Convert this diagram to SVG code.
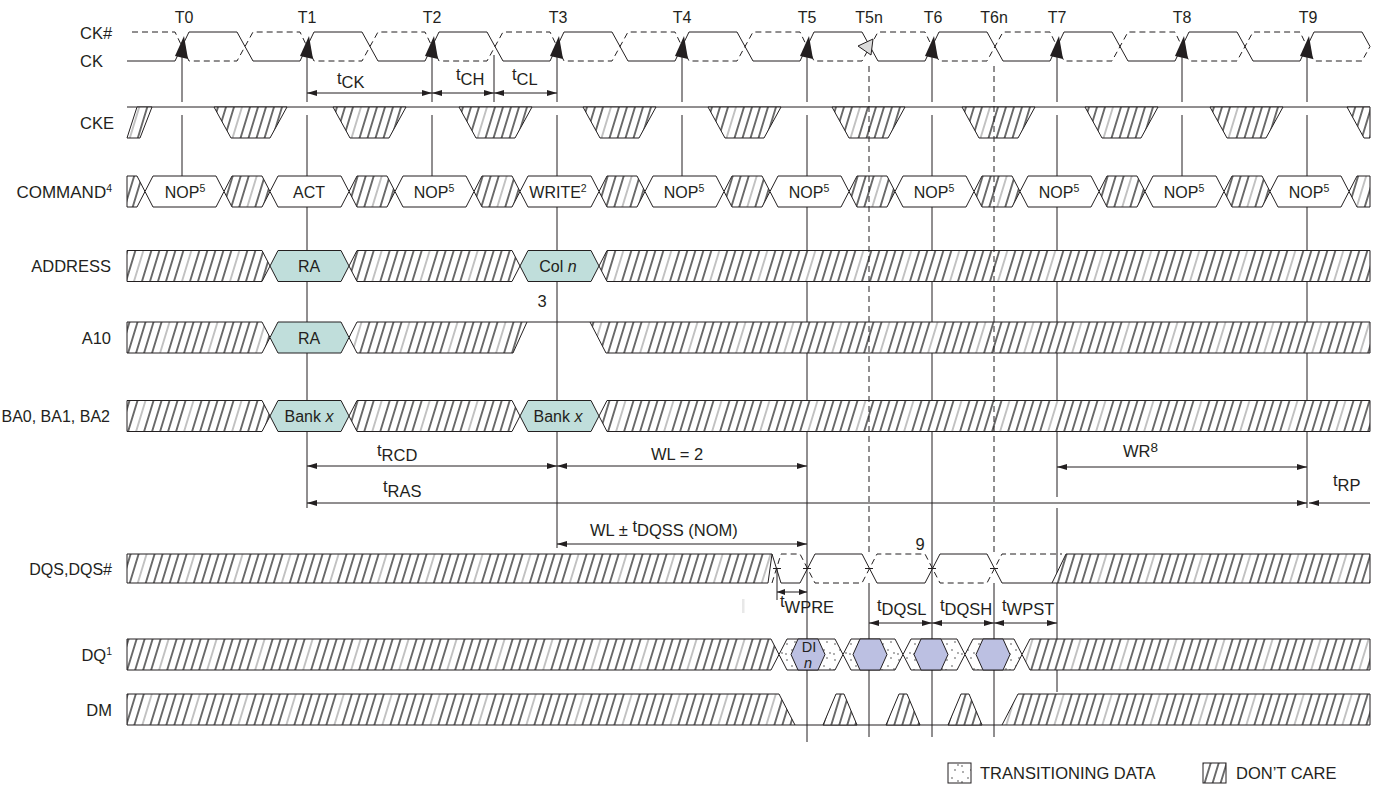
<svg xmlns="http://www.w3.org/2000/svg" xmlns:xlink="http://www.w3.org/1999/xlink" width="1375" height="793" viewBox="0 0 1375 793">
<style>
text{font-family:"Liberation Sans",Arial,sans-serif;fill:#231f20}
.lbl{font-size:16.5px}
.tl{font-size:16px;text-anchor:middle}
.bx{font-size:16px;text-anchor:middle}
.sup{font-size:10.5px}
.ln{stroke:#231f20;stroke-width:1;fill:none}
.dsh{stroke:#231f20;stroke-width:1;fill:none;stroke-dasharray:6 4}
.h{fill:url(#hatch);stroke:#231f20;stroke-width:1}
.w{fill:#fff;stroke:#231f20;stroke-width:1}
.teal{fill:#c0dedb;stroke:#231f20;stroke-width:1}
.blue{fill:#bcc0e2;stroke:#231f20;stroke-width:1}
.dot{fill:url(#dots);stroke:#231f20;stroke-width:1}
.dim{stroke:#231f20;stroke-width:1;fill:none;marker-start:url(#ah);marker-end:url(#ah)}
.blk{fill:#231f20}
</style>
<defs>
<pattern id="hatch" patternUnits="userSpaceOnUse" width="48" height="10" patternTransform="skewX(-17)">
<rect width="48" height="10" fill="#fff"/>
<path d="M4,0V10M12,0V10M20,0V10M36,0V10M44,0V10" stroke="#1a1a1a" stroke-width="1.3"/>
<path d="M28,0V10" stroke="#8f8f8f" stroke-width="1.1"/>
</pattern>
<pattern id="dots" patternUnits="userSpaceOnUse" width="16" height="16">
<rect width="16" height="16" fill="#fff"/>
<circle cx="3" cy="4" r="0.9" fill="#8a8a8a"/>
<circle cx="11" cy="2" r="0.9" fill="#8a8a8a"/>
<circle cx="8" cy="10" r="0.9" fill="#8a8a8a"/>
<circle cx="14" cy="13" r="0.9" fill="#8a8a8a"/>
<circle cx="2" cy="14" r="0.9" fill="#8a8a8a"/>
</pattern>
<marker id="ah" viewBox="0 0 10 6" refX="10" refY="3" markerWidth="10" markerHeight="6" markerUnits="userSpaceOnUse" orient="auto-start-reverse">
<path d="M0,0L10,3L0,6z" fill="#231f20"/>
</marker>
<marker id="ahs" viewBox="0 0 8 6" refX="8" refY="3" markerWidth="8" markerHeight="6" markerUnits="userSpaceOnUse" orient="auto-start-reverse">
<path d="M0,0L8,3L0,6z" fill="#231f20"/>
</marker>
<polygon id="ckArrow" points="2,36 -7,56 6,59"/>
<polygon id="cmdBox" points="-37,0 -29,-15.5 34,-15.5 42,0 34,15.5 -29,15.5"/>
<polygon id="gapHex" points="0,0 8,-15.5 38,-15.5 46,0 38,15.5 8,15.5"/>
<polygon id="gapHexW" points="0,0 8,-15.5 163,-15.5 171,0 163,15.5 8,15.5"/>
<polygon id="ckeTrap" points="0,0 73,0 56,31 17,31"/>
<polygon id="dmBump" points="-17,15.5 -4,-15.5 4,-15.5 17,15.5"/>
<polygon id="dqHex" points="-17,0 -10,-15.5 10,-15.5 17,0 10,15.5 -10,15.5"/>
</defs>

<rect width="1375" height="793" fill="#fff"/>

<g id="connectors-under">
<path class="ln" d="M182,45V102M182,115V191M307,45V102M307,115V508M432,45V102M432,115V191M557,45V102M557,115V548M682,45V102M682,115V191M807,45V102M807,115V742M932,45V102M932,115V737M1057,45V102M1057,115V497M1057,508V692M1182,45V102M1182,115V191M1307,45V102M1307,115V508M494,55V102M869,583V737M994,583V737M777,568V600"/>
</g>

<g id="clock">
<path class="ln" d="M127,61H175L189,32H237L253,61H300L314,32H362L378,61H425L439,32H487L503,61H550L564,32H612L628,61H675L689,32H737L753,61H800L814,32H862L878,61H925L939,32H987L1003,61H1050L1064,32H1112L1128,61H1175L1189,32H1237L1253,61H1300L1314,32H1362L1370,46.5"/>
<path class="dsh" d="M132,32H175L189,61H237L253,32H300L314,61H362L378,32H425L439,61H487L503,32H550L564,61H612L628,32H675L689,61H737L753,32H800L814,61H862L878,32H925L939,61H987L1003,32H1050L1064,61H1112L1128,32H1175L1189,61H1237L1253,32H1300L1314,61H1362L1370,46.5"/>
<use href="#ckArrow" class="blk" x="182"/>
<use href="#ckArrow" class="blk" x="307"/>
<use href="#ckArrow" class="blk" x="432"/>
<use href="#ckArrow" class="blk" x="557"/>
<use href="#ckArrow" class="blk" x="682"/>
<use href="#ckArrow" class="blk" x="807"/>
<use href="#ckArrow" class="blk" x="932"/>
<use href="#ckArrow" class="blk" x="1057"/>
<use href="#ckArrow" class="blk" x="1182"/>
<use href="#ckArrow" class="blk" x="1307"/>
<polygon points="858,46 873,39 871,55" fill="#dcdcdc" stroke="#231f20" stroke-width="1"/>
</g>

<g id="cke">
<path class="ln" d="M127,107H1370"/>
<polygon class="h" points="127,138 137,107 152,107 140,138"/>
<use href="#ckeTrap" class="h" x="214" y="107"/>
<use href="#ckeTrap" class="h" x="333" y="107"/>
<use href="#ckeTrap" class="h" x="459" y="107"/>
<use href="#ckeTrap" class="h" x="583" y="107"/>
<use href="#ckeTrap" class="h" x="708" y="107"/>
<use href="#ckeTrap" class="h" x="832" y="107"/>
<use href="#ckeTrap" class="h" x="962" y="107"/>
<use href="#ckeTrap" class="h" x="1085" y="107"/>
<use href="#ckeTrap" class="h" x="1210" y="107"/>
<polygon class="h" points="1347,107 1370,107 1370,138 1364,138"/>
</g>

<g id="command">
<polygon class="h" points="127,176 137,176 145,191.5 137,207 127,207"/>
<use href="#gapHex" class="h" x="224" y="191.5"/>
<use href="#gapHex" class="h" x="349" y="191.5"/>
<use href="#gapHex" class="h" x="474" y="191.5"/>
<use href="#gapHex" class="h" x="599" y="191.5"/>
<use href="#gapHex" class="h" x="724" y="191.5"/>
<use href="#gapHex" class="h" x="849" y="191.5"/>
<use href="#gapHex" class="h" x="974" y="191.5"/>
<use href="#gapHex" class="h" x="1099" y="191.5"/>
<use href="#gapHex" class="h" x="1224" y="191.5"/>
<polygon class="h" points="1349,191.5 1357,176 1370,176 1370,207 1357,207"/>
<use href="#cmdBox" class="w" x="182" y="191.5"/>
<use href="#cmdBox" class="w" x="307" y="191.5"/>
<use href="#cmdBox" class="w" x="432" y="191.5"/>
<use href="#cmdBox" class="w" x="557" y="191.5"/>
<use href="#cmdBox" class="w" x="682" y="191.5"/>
<use href="#cmdBox" class="w" x="807" y="191.5"/>
<use href="#cmdBox" class="w" x="932" y="191.5"/>
<use href="#cmdBox" class="w" x="1057" y="191.5"/>
<use href="#cmdBox" class="w" x="1182" y="191.5"/>
<use href="#cmdBox" class="w" x="1307" y="191.5"/>
<text class="bx" x="185" y="197.5">NOP<tspan class="sup" dy="-6">5</tspan></text>
<text class="bx" x="309" y="197.5">ACT</text>
<text class="bx" x="434" y="197.5">NOP<tspan class="sup" dy="-6">5</tspan></text>
<text class="bx" x="558" y="197.5">WRITE<tspan class="sup" dy="-6">2</tspan></text>
<text class="bx" x="684" y="197.5">NOP<tspan class="sup" dy="-6">5</tspan></text>
<text class="bx" x="809" y="197.5">NOP<tspan class="sup" dy="-6">5</tspan></text>
<text class="bx" x="934" y="197.5">NOP<tspan class="sup" dy="-6">5</tspan></text>
<text class="bx" x="1059" y="197.5">NOP<tspan class="sup" dy="-6">5</tspan></text>
<text class="bx" x="1184" y="197.5">NOP<tspan class="sup" dy="-6">5</tspan></text>
<text class="bx" x="1309" y="197.5">NOP<tspan class="sup" dy="-6">5</tspan></text>
</g>

<g id="address">
<polygon class="h" points="127,250.5 262,250.5 270,266 262,281.5 127,281.5"/>
<use href="#gapHexW" class="h" x="349" y="266"/>
<polygon class="h" points="599,266 607,250.5 1370,250.5 1370,281.5 607,281.5"/>
<use href="#cmdBox" class="teal" x="307" y="266"/>
<use href="#cmdBox" class="teal" x="557" y="266"/>
<text class="bx" x="309" y="272">RA</text>
<text class="bx" x="558" y="272">Col <tspan font-style="italic">n</tspan></text>
</g>

<g id="a10">
<polygon class="h" points="127,322 262,322 270,337.5 262,353 127,353"/>
<polygon class="h" points="349,337.5 357,322 527,322 513,353 357,353"/>
<path class="ln" d="M527,322H590"/>
<polygon class="h" points="590,322 1370,322 1370,353 606,353"/>
<use href="#cmdBox" class="teal" x="307" y="337.5"/>
<text class="bx" x="309" y="343.5">RA</text>
</g>

<g id="bank">
<polygon class="h" points="127,400.5 262,400.5 270,416 262,431.5 127,431.5"/>
<use href="#gapHexW" class="h" x="349" y="416"/>
<polygon class="h" points="599,416 607,400.5 1370,400.5 1370,431.5 607,431.5"/>
<use href="#cmdBox" class="teal" x="307" y="416"/>
<use href="#cmdBox" class="teal" x="557" y="416"/>
<text class="bx" x="309" y="422">Bank <tspan font-style="italic">x</tspan></text>
<text class="bx" x="558" y="422">Bank <tspan font-style="italic">x</tspan></text>
</g>

<g id="dqs">
<polygon class="h" points="127,554 772,554 768,583 127,583"/>
<polygon class="h" points="1052,583 1066,554 1370,554 1370,583"/>
<path class="ln" d="M772,554L781,583H800L815,554H862L877,583H925L940,554H987L1002,583H1052"/>
<path class="dsh" d="M772,583L781,554H800L815,583H862L877,554H925L940,583H987L1002,554H1062"/>
<path class="ln" d="M773,568.5h8M803,568.5h8M865,568.5h8M928,568.5h8M990,568.5h8"/>
</g>

<g id="dq">
<polygon class="h" points="127,639 771,639 779,654.5 771,670 127,670"/>
<polygon class="dot" points="779,654.5 787,639 835,639 843,654.5 835,670 787,670"/>
<polygon class="dot" points="843,654.5 851,639 895,639 903,654.5 895,670 851,670"/>
<polygon class="dot" points="903,654.5 911,639 957,639 965,654.5 957,670 911,670"/>
<polygon class="dot" points="965,654.5 973,639 1014,639 1022,654.5 1014,670 973,670"/>
<polygon class="h" points="1022,654.5 1030,639 1370,639 1370,670 1030,670"/>
<use href="#dqHex" class="blue" x="808" y="654.5"/>
<use href="#dqHex" class="blue" x="870" y="654.5"/>
<use href="#dqHex" class="blue" x="931" y="654.5"/>
<use href="#dqHex" class="blue" x="993" y="654.5"/>
<text class="bx" x="809" y="651.5" style="font-size:14.5px">DI</text>
<text class="bx" x="808" y="668" style="font-size:14.5px;font-style:italic">n</text>
</g>

<g id="dm">
<polygon class="h" points="127,694 779,694 795,725 127,725"/>
<path class="ln" d="M795,725H1002"/>
<use href="#dmBump" class="h" x="840" y="709.5"/>
<use href="#dmBump" class="h" x="903" y="709.5"/>
<use href="#dmBump" class="h" x="965" y="709.5"/>
<polygon class="h" points="1002,725 1018,694 1370,694 1370,725"/>
</g>

<g id="connectors">
<path class="dsh" d="M869,66V554M994,66V554"/>
<line class="dim" x1="307" y1="93" x2="432" y2="93"/>
<line class="dim" x1="432" y1="93" x2="494" y2="93"/>
<line class="dim" x1="494" y1="93" x2="557" y2="93"/>
<line class="dim" x1="307" y1="466" x2="557" y2="466"/>
<line class="dim" x1="557" y1="466" x2="807" y2="466"/>
<line class="dim" x1="1057" y1="467" x2="1307" y2="467"/>
<line class="dim" x1="307" y1="503" x2="1307" y2="503"/>
<line class="ln" x1="1370" y1="503" x2="1309" y2="503" marker-end="url(#ah)"/>
<line class="dim" x1="557" y1="544" x2="807" y2="544"/>
<line class="ln" x1="777" y1="592" x2="807" y2="592" marker-start="url(#ahs)" marker-end="url(#ahs)"/>
<line class="dim" x1="869" y1="623" x2="932" y2="623"/>
<line class="dim" x1="932" y1="623" x2="994" y2="623"/>
<line class="dim" x1="994" y1="623" x2="1057" y2="623"/>
<rect x="742" y="599" width="2.5" height="14" fill="#e8e8e8"/>
</g>

<g id="labels">
<text class="tl" x="184" y="23">T0</text>
<text class="tl" x="307" y="23">T1</text>
<text class="tl" x="432" y="23">T2</text>
<text class="tl" x="558" y="23">T3</text>
<text class="tl" x="682" y="23">T4</text>
<text class="tl" x="807" y="23">T5</text>
<text class="tl" x="869" y="23">T5n</text>
<text class="tl" x="933" y="23">T6</text>
<text class="tl" x="994" y="23">T6n</text>
<text class="tl" x="1057" y="23">T7</text>
<text class="tl" x="1182" y="23">T8</text>
<text class="tl" x="1308" y="23">T9</text>

<text class="lbl" x="80" y="39">CK#</text>
<text class="lbl" x="80" y="67">CK</text>
<text class="lbl" x="80" y="129">CKE</text>
<text class="lbl" x="112" y="198" text-anchor="end" style="font-size:17px">COMMAND<tspan class="sup" dy="-6">4</tspan></text>
<text class="lbl" x="111" y="272" text-anchor="end">ADDRESS</text>
<text class="lbl" x="111" y="343.5" text-anchor="end">A10</text>
<text class="lbl" x="110" y="422" text-anchor="end" style="font-size:16px">BA0, BA1, BA2</text>
<text class="lbl" x="112" y="574.5" text-anchor="end" style="font-size:16px">DQS,DQS#</text>
<text class="lbl" x="112" y="660.5" text-anchor="end">DQ<tspan class="sup" dy="-6">1</tspan></text>
<text class="lbl" x="112" y="715.5" text-anchor="end">DM</text>

<text class="lbl" x="337" y="84">t<tspan dy="4">CK</tspan></text>
<text class="lbl" x="456" y="80">t<tspan dy="5">CH</tspan></text>
<text class="lbl" x="512" y="80">t<tspan dy="5">CL</tspan></text>
<text class="lbl" x="542" y="307" text-anchor="middle">3</text>
<text class="lbl" x="377" y="456">t<tspan dy="5">RCD</tspan></text>
<text class="lbl" x="651" y="460">WL = 2</text>
<text class="lbl" x="1123" y="457">WR<tspan font-size="13.5" dy="-5">8</tspan></text>
<text class="lbl" x="383" y="492">t<tspan dy="5">RAS</tspan></text>
<text class="lbl" x="1333" y="486">t<tspan dy="5">RP</tspan></text>
<text class="lbl" x="590" y="536">WL ± <tspan dy="-4">t</tspan><tspan dy="4">DQSS (NOM)</tspan></text>
<text class="lbl" x="920" y="550" text-anchor="middle">9</text>
<text class="lbl" x="780" y="607">t<tspan dy="6">WPRE</tspan></text>
<text class="lbl" x="877" y="611">t<tspan dy="4">DQSL</tspan></text>
<text class="lbl" x="940" y="611">t<tspan dy="4">DQSH</tspan></text>
<text class="lbl" x="1002" y="611">t<tspan dy="4">WPST</tspan></text>
</g>

<g id="legend">
<rect class="dot" x="948" y="763" width="23" height="20"/>
<text class="lbl" x="980" y="779">TRANSITIONING DATA</text>
<rect class="h" x="1203" y="763" width="23" height="20"/>
<text class="lbl" x="1236" y="779">DON’T CARE</text>
</g>
</svg>
